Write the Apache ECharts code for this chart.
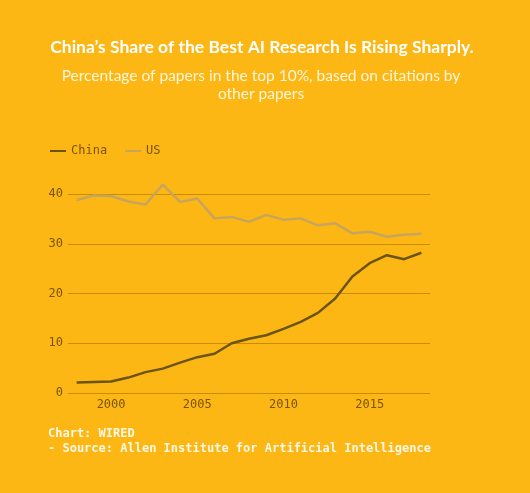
<!DOCTYPE html>
<html>
<head>
<meta charset="utf-8">
<script src="https://cdn.jsdelivr.net/npm/echarts@6/dist/echarts.min.js"></script>
<style>
html,body{margin:0;padding:0;background:#FDB714;}
#c{width:530px;height:493px;}
</style>
</head>
<body>
<div id="c"></div>
<script>
const years = ['1998','1999','2000','2001','2002','2003','2004','2005','2006','2007','2008','2009','2010','2011','2012','2013','2014','2015','2016','2017','2018'];
const china = [2.1,2.2,2.3,3.1,4.2,4.9,6.1,7.2,7.9,10.0,10.9,11.6,12.9,14.3,16.1,19.0,23.4,26.1,27.7,26.9,28.2];
const us = [38.8,39.7,39.6,38.5,37.9,41.9,38.4,39.1,35.1,35.4,34.4,35.8,34.8,35.1,33.7,34.1,32.1,32.4,31.4,31.8,32.0];
const yTicks = [0,10,20,30,40];
const titleText = "China\u2019s Share of the Best AI Research Is Rising Sharply.";
const subText = "Percentage of papers in the top 10%, based on citations by\nother papers";
const footer1 = "Chart: WIRED";
const footer2 = "- Source: Allen Institute for Artificial Intelligence";

const labelColor = '#7a5400';
const gridColor = '#c98c00';
const mono = '"DejaVu Sans Mono", "Liberation Mono", monospace';

const chart = echarts.init(document.getElementById('c'), null, {renderer:'canvas'});
chart.setOption({
  backgroundColor: '#FDB714',
  animation: false,
  title: [
    {text: titleText, left: 257, top: 33, textAlign: 'center',
     textStyle: {color:'#ffffff', fontFamily:'Lato', fontWeight:'bold', fontSize:17.5}},
    {text: subText, left: 256, top: 62, textAlign: 'center',
     textStyle: {color:'#fff6dc', fontFamily:'Lato', fontWeight:'normal', fontSize:15.5, lineHeight:18}},
    {text: footer1 + "\n" + footer2, left: 43, top: 421,
     textStyle: {color:'#fff8e6', fontFamily:mono, fontWeight:'bold', fontSize:12, lineHeight:15}}
  ],
  legend: {
    left: 45, top: 140,
    itemWidth: 16, itemHeight: 2, itemGap: 18,
    icon: 'rect',
    textStyle: {color: labelColor, fontFamily: mono, fontSize: 12},
    data: ['China','US']
  },
  grid: {left: 68, right: 100, top: 194, bottom: 100, containLabel: false},
  xAxis: {
    type: 'category', data: years, boundaryGap: true,
    axisLine: {show: false}, axisTick: {show: false},
    axisLabel: {color: labelColor, fontFamily: mono, fontSize: 12, margin: 6,
      interval: function(i, v){ return (+v) % 5 === 0; }}
  },
  yAxis: {
    type: 'value', min: 0, max: 40, interval: 10,
    axisLine: {show:false}, axisTick:{show:false},
    axisLabel: {color: labelColor, fontFamily: mono, fontSize: 12, margin: 5,
      formatter: function(v){ return yTicks.indexOf(v) >= 0 ? String(v) : ''; }},
    splitLine: {lineStyle: {color: gridColor, width: 1}}
  },
  series: [
    {name:'China', type:'line', data: china, symbol:'none', clip:false,
     lineStyle:{color:'#6b5418', width:2.5}, itemStyle:{color:'#6b5418'}},
    {name:'US', type:'line', data: us, symbol:'none', clip:false,
     lineStyle:{color:'#c7a55c', width:2.5}, itemStyle:{color:'#c7a55c'}}
  ]
});
</script>
</body>
</html>
